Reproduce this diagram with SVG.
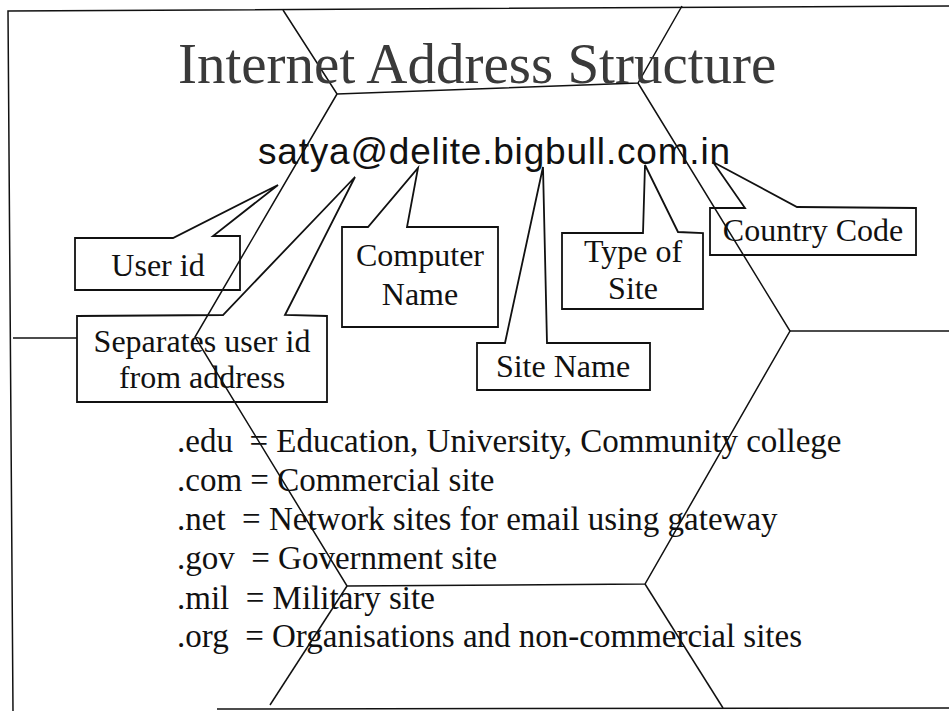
<svg xmlns="http://www.w3.org/2000/svg" width="949" height="711" viewBox="0 0 949 711">
<style>
.ln{fill:none;stroke:#111;stroke-width:1.5;stroke-linejoin:miter}
.box{fill:none;stroke:#111;stroke-width:1.8;stroke-linejoin:miter}
.lbl{font-family:"Liberation Serif","Times New Roman",serif;font-size:32px;fill:#111;text-anchor:middle}
.row{font-family:"Liberation Serif","Times New Roman",serif;font-size:33px;fill:#111}
</style>
<rect x="0" y="0" width="949" height="711" fill="#ffffff"/>
<g id="background">
<polyline class="ln" points="949,6 8,11 13,711"/>
<line class="ln" x1="217" y1="709" x2="949" y2="708"/>
<polyline class="ln" points="283,10 337,94 638,83 682,6"/>
<polyline class="ln" points="337,94 195,337 347,586 645,584 790,331 638,83"/>
<line class="ln" x1="790" y1="331" x2="949" y2="331"/>
<line class="ln" x1="13" y1="338" x2="77" y2="338"/>
<line class="ln" x1="347" y1="586" x2="270" y2="705"/>
<line class="ln" x1="645" y1="584" x2="723" y2="708"/>
</g>
<g id="title">
<text x="178" y="83" font-family="Liberation Serif, Times New Roman, serif" font-size="57" fill="#3a3a3a">Internet Address Structure</text>
</g>
<g id="address">
<text x="258" y="164" font-family="Liberation Sans, Arial, sans-serif" font-size="37" fill="#111" textLength="472" lengthAdjust="spacing">satya@delite.bigbull.com.in</text>
</g>
<g id="connectors">
<path class="box" d="M75,238 L173,238 L278,185 L213,236 L240,236 L240,290 L75,290 Z"/>
<path class="box" d="M77,316 L223,315 L355,177 L285,315 L327,316 L327,402 L77,402 Z"/>
<path class="box" d="M342,227 L368,227 L418,168 L407,227 L498,227 L498,327 L342,327 Z"/>
<path class="box" d="M477,343 L505,343 L543,167 L547,343 L650,343 L650,390 L477,390 Z"/>
<path class="box" d="M562,233 L643,233 L645,165 L678,232 L703,233 L703,309 L562,309 Z"/>
<path class="box" d="M710,208 L745,208 L713,162 L797,207 L916,208 L916,255 L710,255 Z"/>
</g>
<g id="node-userid"><text class="lbl" x="158" y="276">User id</text></g>
<g id="node-separates"><text class="lbl" x="202" y="352">Separates user id</text><text class="lbl" x="202" y="388">from address</text></g>
<g id="node-computer"><text class="lbl" x="420" y="266">Computer</text><text class="lbl" x="420" y="305">Name</text></g>
<g id="node-sitename"><text class="lbl" x="563" y="377">Site Name</text></g>
<g id="node-type"><text class="lbl" x="633" y="262">Type of</text><text class="lbl" x="633" y="299">Site</text></g>
<g id="node-country"><text class="lbl" x="813" y="241">Country Code</text></g>
<g id="legend">
<text class="row" xml:space="preserve" x="177" y="452">.edu  = Education, University, Community college</text>
<text class="row" xml:space="preserve" x="177" y="491">.com = Commercial site</text>
<text class="row" xml:space="preserve" x="177" y="530">.net  = Network sites for email using gateway</text>
<text class="row" xml:space="preserve" x="177" y="569">.gov  = Government site</text>
<text class="row" xml:space="preserve" x="177" y="609">.mil  = Military site</text>
<text class="row" xml:space="preserve" x="177" y="647">.org  = Organisations and non-commercial sites</text>
</g>
</svg>
